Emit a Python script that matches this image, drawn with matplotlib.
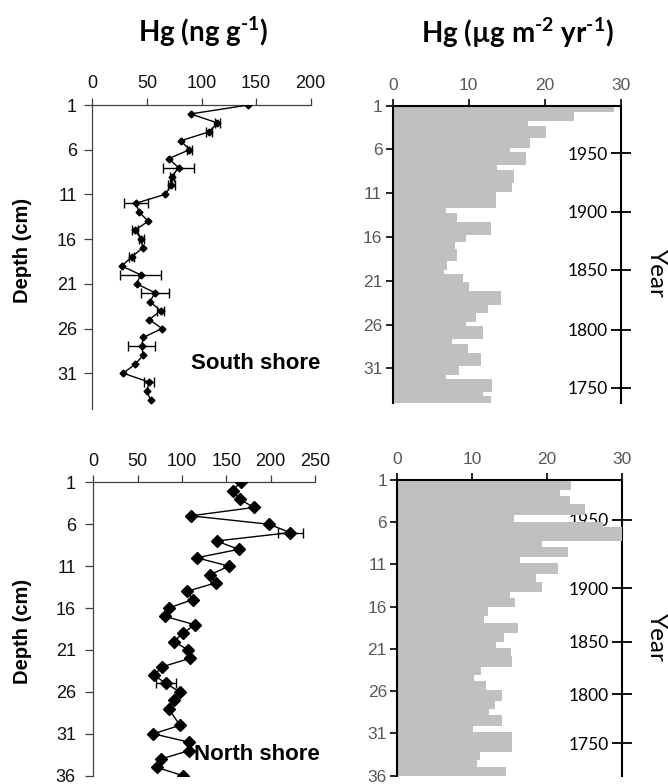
import numpy as np
import matplotlib
matplotlib.use("Agg")
import matplotlib.pyplot as plt

plt.rcParams["font.family"] = ["Liberation Sans", "DejaVu Sans"]
plt.rcParams["mathtext.default"] = "regular"

# --- South shore core -------------------------------------------------------
south_depth = list(range(1, 35))
south_hg = [143, 90, 114.5, 107, 81, 89, 70, 79, 73, 72.5, 66.5,
            39.7, 43, 51.3, 39, 45, 46, 36, 27, 44.3, 40.6, 57.4, 52.8,
            62.6, 52.2, 63.8, 46.7, 45.2, 46.7, 39, 28.4, 52.2, 49.8, 53.5]
south_err = [0, 0, 2, 3, 0, 2, 0, 14.5, 1.5, 3, 0, 11, 0, 0, 3, 2.5, 0, 2,
             0, 18.5, 0, 12.8, 0, 3.5, 0, 0, 0, 12.5, 0, 0, 0, 4.5, 0, 0]
# flux slices: depth edges (cm) and Hg flux (ug m-2 yr-1)
south_edges = [1.00, 1.68, 2.74, 3.28, 4.72, 5.79, 6.25, 7.76, 8.33, 9.85,
               10.81, 12.70, 13.27, 14.26, 15.74, 16.62, 17.37, 18.71, 19.73,
               20.19, 21.18, 22.21, 23.72, 24.67, 25.74, 26.20, 27.71, 28.17,
               29.23, 30.76, 31.82, 32.27, 33.72, 34.18, 35.0]
south_flux = [29.1, 23.8, 17.8, 20.2, 18.0, 15.4, 17.6, 13.7, 15.9, 15.7,
              13.6, 7.0, 8.4, 12.9, 9.6, 8.2, 8.5, 7.1, 6.8, 9.2, 10.0, 14.3,
              12.5, 11.0, 9.7, 11.9, 7.8, 9.9, 11.6, 8.7, 7.0, 13.1, 11.9, 12.9]
south_years = [1950, 1900, 1850, 1800, 1750]
south_year_depth = [6.43, 13.09, 19.73, 26.58, 33.22]

# --- North shore core -------------------------------------------------------
north_depth = list(range(1, 29)) + list(range(30, 37))
north_hg = [166, 157, 165, 181, 110, 198, 222, 139, 164, 116.5, 153, 132,
            138, 106, 112, 85, 81, 114.7, 100.8, 91, 107, 109, 78, 68.4, 82,
            97.5, 90.5, 85, 97.7, 67.6, 108, 108, 76.5, 71.5, 101]
north_err = [0] * 6 + [14] + [0] * 17 + [11] + [0] * 10
north_edges = [1.00, 2.18, 2.89, 3.84, 5.14, 5.93, 6.60, 8.18, 8.89, 10.08,
               10.86, 12.12, 13.11, 14.22, 15.00, 16.07, 17.09, 17.89, 19.14,
               20.14, 20.85, 21.83, 23.09, 24.08, 24.79, 25.85, 27.15, 28.14,
               28.81, 30.11, 30.79, 31.97, 33.15, 34.14, 34.93, 36.0]
north_flux = [23.2, 21.8, 23.1, 25.1, 15.6, 27.5, 30.0, 19.4, 22.8, 16.4,
              21.5, 18.6, 19.4, 15.1, 15.8, 12.1, 11.6, 16.1, 14.3, 13.2,
              15.2, 15.4, 11.2, 10.2, 11.9, 14.0, 13.1, 12.2, 14.0, 10.1,
              15.3, 15.4, 11.1, 10.6, 14.5]
north_years = [1950, 1900, 1850, 1800, 1750]
north_year_depth = [5.73, 13.82, 20.14, 26.33, 32.16]

W, H = 668, 784
GREY_BAR = "#c0c0c0"
GREY_TXT = "#595959"


def px_box(l, t, r, b):
    return [l / W, 1 - b / H, (r - l) / W, (b - t) / H]


def conc_panel(ax, depth, hg, err, xmax, xstep, ymax, ytick_max, ms, ypad):
    depth = np.asarray(depth, float)
    hg = np.asarray(hg, float)
    err = np.asarray(err, float)
    ax.plot(hg, depth, color="black", lw=1.0, marker="D", ms=ms,
            mfc="black", mec="black", zorder=3)
    keep = err > 0
    ax.errorbar(hg[keep], depth[keep], xerr=err[keep], fmt="none",
                ecolor="black", elinewidth=1.0, capsize=3.5, capthick=1.0,
                zorder=2)
    ax.set_xlim(0, xmax)
    ax.set_ylim(ymax, 1)
    ax.xaxis.tick_top()
    ax.set_xticks(np.arange(0, xmax + 1, xstep))
    ax.set_yticks(np.arange(1, ytick_max + 1, 5))
    for s in ("bottom", "right"):
        ax.spines[s].set_visible(False)
    for s in ("top", "left"):
        ax.spines[s].set_color("#404040")
        ax.spines[s].set_linewidth(0.9)
    ax.tick_params(axis="x", direction="out", length=5, width=0.9,
                   color="#404040", labelsize=13, pad=4, labelcolor="#111111")
    ax.tick_params(axis="y", direction="out", length=5.5, width=0.9,
                   color="#404040", labelsize=13, pad=ypad,
                   labelcolor="#111111")
    ax.patch.set_alpha(0)


def flux_panel(ax, edges, flux, ymax, ytick_max, years, year_depth):
    edges = np.asarray(edges, float)
    ax.barh(edges[:-1], flux, height=np.diff(edges), align="edge",
            color=GREY_BAR, edgecolor="none", zorder=1)
    ax.set_xlim(0, 30)
    ax.set_ylim(ymax, 1)
    ax.xaxis.tick_top()
    ax.set_xticks([0, 10, 20, 30])
    ax.set_yticks(np.arange(1, ytick_max + 1, 5))
    ax.spines["bottom"].set_visible(False)
    ax.spines["right"].set_visible(False)
    for s in ("top", "left"):
        ax.spines[s].set_color("black")
        ax.spines[s].set_linewidth(1.5)
    ax.tick_params(axis="both", direction="out", length=5, width=1.2,
                   color="black", labelsize=12.5, labelcolor=GREY_TXT)
    ax.tick_params(axis="x", pad=4)
    ax.tick_params(axis="y", pad=2.5)

    # age scale drawn on the right-hand spine, labels inside the panel
    sec = ax.secondary_yaxis(1.0)
    sec.set_alignment("left")
    sec.set_yticks(year_depth, labels=[str(y) for y in years])
    sec.spines["left"].set_linewidth(1.5)
    sec.spines["left"].set_color("black")
    sec.tick_params(axis="y", direction="inout", length=15, width=1.3,
                    labelsize=12.5, pad=1.5, color="black", labelcolor="black")
    for lab in sec.get_yticklabels():
        lab.set_family("Lato")


fig = plt.figure(figsize=(W / 100, H / 100), dpi=100)

ax_tl = fig.add_axes(px_box(92.3, 105, 310.7, 409))
ax_tr = fig.add_axes(px_box(392.7, 105.7, 620.7, 403.3))
ax_bl = fig.add_axes(px_box(93.3, 482.3, 315, 775.7))
ax_br = fig.add_axes(px_box(397.3, 480, 621.7, 775.7))

conc_panel(ax_tl, south_depth, south_hg, south_err, 200, 50, 35, 31, 3.5, 5.5)
conc_panel(ax_bl, north_depth, north_hg, north_err, 250, 50, 36, 36, 6, 7)
flux_panel(ax_tr, south_edges, south_flux, 35, 31, south_years,
           south_year_depth)
flux_panel(ax_br, north_edges, north_flux, 36, 36, north_years,
           north_year_depth)

ax_tl.text(150, 29.9, "South shore", ha="center", va="center",
           fontsize=16, fontweight="bold")
ax_bl.text(114, 33.5, "North shore", ha="left", va="center",
           fontsize=16, fontweight="bold")

for yc in (250, 631):
    fig.text(22.5 / W, 1 - yc / H, "Depth (cm)", rotation=90, ha="center",
             va="center", fontsize=14.5, fontweight="bold")
for yc in (273, 637):
    fig.text(656 / W, 1 - yc / H, "Year", rotation=-90, ha="center",
             va="center", fontsize=17.5, family="Lato")

fig.text(203 / W, 1 - 32 / H, "Hg (ng g$^{\u20101}$)", ha="center",
         va="center", fontsize=20, fontweight="bold", family="Lato")
fig.text(517 / W, 1 - 33 / H, "Hg (µg m$^{\u20102}$ yr$^{\u20101}$)",
         ha="center", va="center", fontsize=20, fontweight="bold",
         family="Lato")

fig.savefig("out.png", dpi=100)
